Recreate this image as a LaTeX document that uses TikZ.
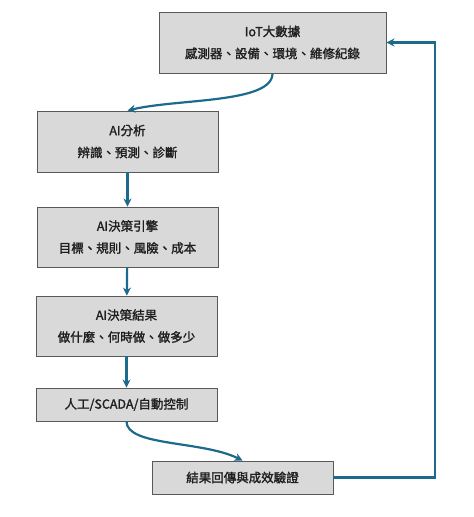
\documentclass[tikz,border=0pt]{standalone}
\usepackage{fontspec}
\setmainfont{Noto Sans CJK TC}
\newfontfamily\boxfont{Noto Sans CJK TC}[FakeBold=1.6]
\usetikzlibrary{arrows.meta}
\definecolor{boxfill}{HTML}{D9D9D9}
\definecolor{boxline}{HTML}{595959}
\definecolor{flow}{HTML}{1D6A8C}
\tikzset{
  box/.style={draw=boxline, fill=boxfill, line width=0.9pt, align=center,
    inner sep=0pt, font=\boxfont\fontsize{12.5}{22}\selectfont, text=black!88},
  flowline/.style={draw=flow, line width=2.2pt, -{Stealth[length=8pt,width=8pt]}}
}
\begin{document}
\begin{tikzpicture}[x=1pt,y=-1pt]
\useasboundingbox (0,0) rectangle (474,517);
\node[box, minimum width=227pt, minimum height=61pt] (b1) at (272.5,42.5) {IoT大數據\\感測器、設備、環境、維修紀錄};
\node[box, minimum width=181pt, minimum height=61pt] (b2) at (127.5,141.5) {AI分析\\辨識、預測、診斷};
\node[box, minimum width=181pt, minimum height=60pt] (b3) at (127.5,237) {AI決策引擎\\目標、規則、風險、成本};
\node[box, minimum width=181pt, minimum height=60pt] (b4) at (126.5,326) {AI決策結果\\做什麼、何時做、做多少};
\node[box, minimum width=181pt, minimum height=33pt] (b5) at (126.5,404.5) {人工/SCADA/自動控制};
\node[box, minimum width=181pt, minimum height=33pt] (b6) at (242.5,477.5) {結果回傳與成效驗證};
\coordinate (c) at (435,477.5);
\draw[flowline] (b1.south) .. controls +(0,30) and +(50,-12) .. (b2.north);
\draw[flowline] (b2) -- (b3);
\draw[flowline] (b3) -- (b4);
\draw[flowline] (b4) -- (b5);
\draw[flowline] (b5.south) .. controls +(0,25) and +(-40,-20) .. (b6.north);
\draw[flowline] (b6.east) -- (c) |- (b1.east);
\end{tikzpicture}
\end{document}
